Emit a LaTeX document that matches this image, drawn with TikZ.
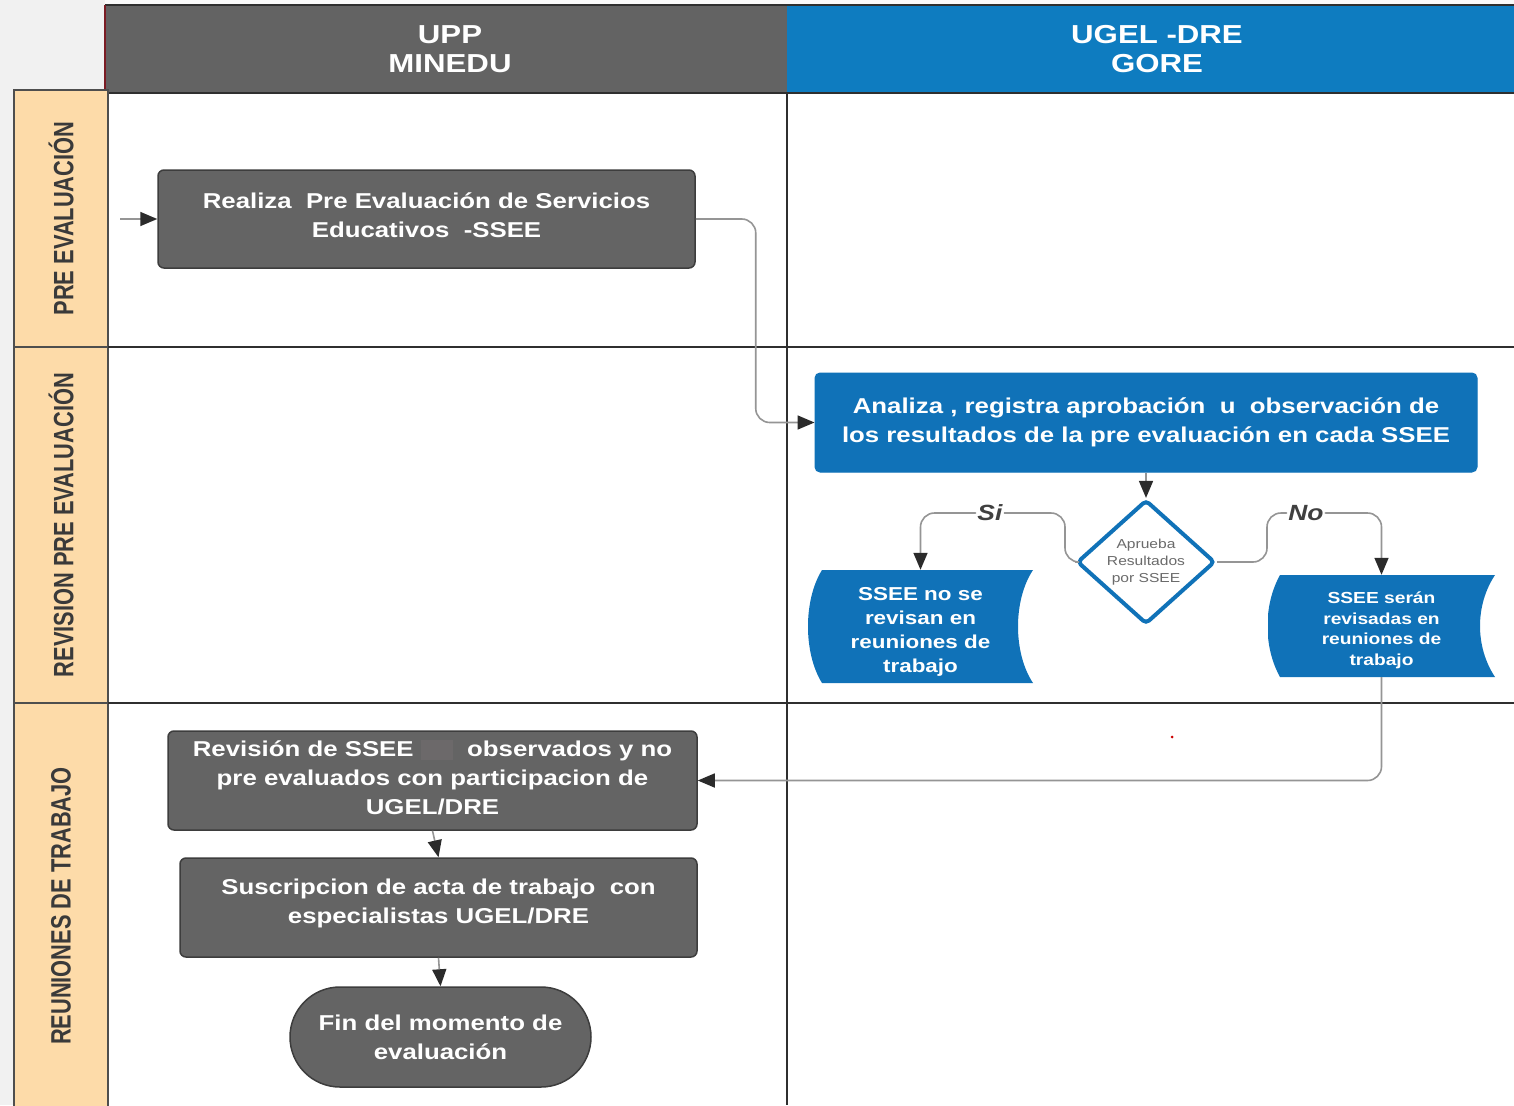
\documentclass[tikz,border=0pt]{standalone}
\usepackage{fontspec}
\setmainfont{Liberation Sans}
\newfontfamily\wf[FakeStretch=1.2]{Liberation Sans}
\newfontfamily\nf[FakeStretch=0.78]{Liberation Sans}
\usetikzlibrary{shapes.geometric,arrows.meta}
\definecolor{bggray}{HTML}{F1F1F1}
\definecolor{hgray}{HTML}{636363}
\definecolor{hblue}{HTML}{0E7CC0}
\definecolor{boxgray}{HTML}{646464}
\definecolor{boxborder}{HTML}{3D3D3D}
\definecolor{blueC}{HTML}{1072B8}
\definecolor{peach}{HTML}{FDDBA9}
\definecolor{gridc}{HTML}{2F2F2F}
\definecolor{connc}{HTML}{959595}
\definecolor{tipc}{HTML}{2B2B2B}
\definecolor{darkred}{HTML}{7B1C24}
\definecolor{lanetext}{HTML}{3A3A3A}
\definecolor{diatext}{HTML}{6A6A6A}
\definecolor{blotch}{HTML}{6C696A}
\tikzset{
  hdr/.style={rectangle, inner sep=0pt, text=white, align=center,
    font=\wf\bfseries\fontsize{26}{29}\selectfont},
  graybox/.style={rectangle, rounded corners=6pt, fill=boxgray, draw=boxborder,
    line width=1.5pt, text=white, align=center, inner sep=0pt,
    font=\wf\bfseries\fontsize{21.5}{29}\selectfont},
  bluebox/.style={rectangle, rounded corners=5pt, fill=blueC, draw=blueC,
    line width=1pt, text=white, align=center, inner sep=0pt,
    font=\wf\bfseries\fontsize{21.5}{29}\selectfont},
  lanebox/.style={fill=peach, draw=gridc!85, line width=1.5pt},
  lanetxt/.style={rotate=90, text=lanetext, inner sep=0pt,
    font=\nf\bfseries\fontsize{28}{30}\selectfont},
  gridline/.style={draw=gridc, line width=2pt},
  conn/.style={draw=connc, line width=1.6pt, rounded corners=14pt,
    -{Triangle[length=17pt,width=14pt,color=tipc]}},
  lbl/.style={fill=white, inner sep=1.5pt, text=tipc!90,
    font=\wf\bfseries\itshape\fontsize{22}{24}\selectfont},
  docshape/.style={rectangle, inner sep=0pt, text=white, align=center,
    path picture={
      \fill[blueC]
        ([xshift=#1]path picture bounding box.north west)
        .. controls ([xshift=-4.7pt,yshift=-30pt]path picture bounding box.north west)
        and ([xshift=-4.7pt,yshift=30pt]path picture bounding box.south west)
        .. ([xshift=#1]path picture bounding box.south west)
        -- (path picture bounding box.south east)
        .. controls ([xshift=-20pt,yshift=30pt]path picture bounding box.south east)
        and ([xshift=-20pt,yshift=-30pt]path picture bounding box.north east)
        .. (path picture bounding box.north east) -- cycle;
    }},
}
\begin{document}
\begin{tikzpicture}[x=1pt,y=-1pt]
\useasboundingbox (0,0) rectangle (1514,1105);
% backgrounds
\fill[bggray] (0,0) rectangle (1514,1105);
\fill[white!96!gray] (105,0) rectangle (1514,5);
\fill[white] (108,93) rectangle (1514,1105);

% headers
\node[hdr, fill=hgray, minimum width=682pt, minimum height=88pt] (h1) at (446,49) {\hspace{8pt}UPP\\\hspace{8pt}MINEDU};
\node[hdr, fill=hblue, minimum width=727pt, minimum height=88pt] (h2) at (1150.5,49) {\hspace{13pt}UGEL -DRE\\\hspace{13pt}GORE};
\draw[gridc, line width=1.2pt] (105,5) -- (1514,5);
\draw[gridc, line width=2.5pt] (105,93) -- (1514,93);
\draw[darkred, line width=2pt] (105,5) -- (105,93);

% lane column
\draw[lanebox] (14,90) rectangle (108,347);
\draw[lanebox] (14,347) rectangle (108,703);
\draw[lanebox] (14,703) rectangle (108,1110);
\node[lanetxt] (t1) at (61,218.5) {PRE EVALUACIÓN};
\node[lanetxt] (t2) at (61,525) {REVISION PRE EVALUACIÓN};
\node[lanetxt] (t3) at (61,906) {REUNIONES DE TRABAJO};

% grid
\draw[gridline] (787,93) -- (787,1105);
\draw[gridline] (108,347) -- (1514,347);
\draw[gridline] (108,703) -- (1514,703);

% nodes
\node[graybox, minimum width=537pt, minimum height=98pt] (b1) at (426.5,219)
  {Realiza\ \ Pre Evaluación de Servicios\\Educativos\ \ -SSEE\rule[-8pt]{0pt}{8pt}};
\node[bluebox, minimum width=662pt, minimum height=99pt] (b2) at (1146,422.5)
  {Analiza , registra aprobación\ \ u\ \ observación de\\los resultados de la pre evaluación en cada SSEE};
\node[diamond, draw=blueC, fill=white, line width=4pt, rounded corners=4pt,
  minimum width=138pt, minimum height=123pt, inner sep=0pt, align=center,
  text=diatext, font=\wf\fontsize{13}{17}\selectfont] (dia) at (1146,562)
  {Aprueba\\Resultados\\por SSEE};
\node[docshape=14pt, minimum width=225pt, minimum height=113pt,
  font=\wf\bfseries\fontsize{18.7}{24}\selectfont] (d1) at (920.5,626.5)
  {\rule{0pt}{23pt}SSEE no se\\revisan en\\reuniones de\\trabajo};
\node[docshape=12pt, minimum width=227pt, minimum height=102pt,
  font=\wf\bfseries\fontsize{16}{20.5}\selectfont] (d2) at (1381.5,626)
  {\rule{0pt}{20pt}SSEE serán\\revisadas en\\reuniones de\\trabajo};
\node[graybox, minimum width=529pt, minimum height=99pt] (b3) at (432.5,780.5)
  {Revisión de SSEE\ \textcolor{blotch}{\rule[-3pt]{32pt}{20pt}}\ \ observados y no\\pre evaluados con participacion de\\UGEL/DRE\rule[-7pt]{0pt}{7pt}};
\node[graybox, minimum width=517pt, minimum height=99pt] (b4) at (438.5,907.5)
  {Suscripcion de acta de trabajo\ \ con\\especialistas UGEL/DRE\rule[-13pt]{0pt}{13pt}};
\node[graybox, rounded corners=50pt, minimum width=301pt, minimum height=100pt] (end) at (440.5,1037)
  {Fin del momento de\\evaluación};

% stray red dot
\fill[red!80!black] (1172,737) circle (1.5pt);

% connectors
\coordinate (start) at (120,219);
\coordinate (ylev) at (0,513);
\draw[conn] (start) -- (b1.west);
\draw[conn] (b1.east) -- ++(60,0) |- (b2.west);
\draw[conn, rounded corners=0pt] (b2.south) -- (dia.north);
\draw[conn] (dia.west) -- ++(-10,0) |- node[lbl, pos=0.76] (si) {Si} (d1.north |- ylev) -- (d1.north);
\draw[conn] (dia.east) -- ++(50,0) |- node[lbl, pos=0.67] (no) {No} (d2.north |- ylev) -- (d2.north);
\draw[conn] (d2.south) |- (b3.east);
\draw[conn, rounded corners=0pt] (b3.south) -- (b4.north);
\draw[conn, rounded corners=0pt] (b4.south) -- (end.north);
\end{tikzpicture}
\end{document}
